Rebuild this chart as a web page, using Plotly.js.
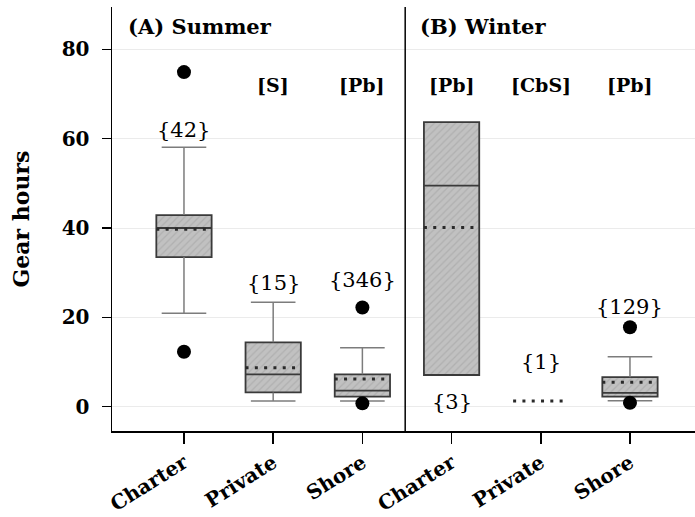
<!DOCTYPE html>
<html>
<head>
<meta charset="utf-8">
<script src="https://cdn.plot.ly/plotly-3.0.1.min.js"></script>
<style>
  html, body { margin: 0; padding: 0; background: #fff; }
  #chart { width: 695px; height: 517px; }
</style>
</head>
<body>
<div id="chart"></div>
<script>
// Gear hours by fishing mode, summer (positions 0-2) and winter (positions 3-5)
const categories = ['Charter', 'Private', 'Shore', 'Charter', 'Private', 'Shore'];
const q1 = [33.5, 3.2, 2.25, 7.1, null, 2.25];
const median = [40.0, 7.25, 3.6, 49.5, null, 3.1];
const q3 = [42.9, 14.4, 7.25, 63.7, null, 6.6];
const mean = [39.7, 8.7, 6.2, 40.1, 1.3, 5.5];
const lowerWhisker = [20.9, 1.3, 1.3, null, null, 1.35];
const upperWhisker = [58.1, 23.4, 13.2, null, null, 11.2];
const outlierGroup = [0, 0, 2, 2, 5, 5];
const outlierValue = [74.9, 12.3, 22.2, 0.75, 17.8, 0.9];
const sampleSize = [42, 15, 346, 3, 1, 129];
const groupLetters = ['', '[S]', '[Pb]', '[Pb]', '[CbS]', '[Pb]'];
const panelTitles = ['(A) Summer', '(B) Winter'];

// where each {n} label sits on the value axis
const sampleLabelY = [62, 27.6, 28.4, 1.1, 10.1, 22.4];
const letterLabelY = 72;

const serif = 'DejaVu Serif';
const boxWidth = 0.62;
const capHalf = 0.25;
const pos = categories.map((_, i) => i);
const hasBox = pos.filter(i => q1[i] !== null);

// hatched box fill
const fill = {
  type: 'bar',
  x: hasBox,
  base: hasBox.map(i => q1[i]),
  y: hasBox.map(i => q3[i] - q1[i]),
  width: boxWidth,
  marker: {
    color: '#b2b2b2',
    line: { width: 0 },
    pattern: { shape: '/', bgcolor: '#c1c1c1', fgcolor: '#b0b0b0', size: 5, solidity: 0.25 }
  },
  hoverinfo: 'skip',
  showlegend: false
};

// whiskers and caps
const wx = [], wy = [];
pos.forEach(i => {
  if (upperWhisker[i] !== null) {
    wx.push(i, i, null, i - capHalf, i + capHalf, null);
    wy.push(q3[i], upperWhisker[i], null, upperWhisker[i], upperWhisker[i], null);
  }
  if (lowerWhisker[i] !== null) {
    wx.push(i, i, null, i - capHalf, i + capHalf, null);
    wy.push(q1[i], lowerWhisker[i], null, lowerWhisker[i], lowerWhisker[i], null);
  }
});
const whiskers = {
  type: 'scatter', mode: 'lines', x: wx, y: wy,
  line: { color: '#7c7c7c', width: 1.5 },
  hoverinfo: 'skip', showlegend: false
};

// box outline and median
const boxes = {
  type: 'box',
  x: hasBox,
  q1: hasBox.map(i => q1[i]),
  median: hasBox.map(i => median[i]),
  q3: hasBox.map(i => q3[i]),
  lowerfence: hasBox.map(i => q1[i]),
  upperfence: hasBox.map(i => q3[i]),
  width: boxWidth,
  whiskerwidth: 0,
  boxpoints: false,
  fillcolor: 'rgba(0,0,0,0)',
  line: { color: '#3a3a3a', width: 1.8 },
  hoverinfo: 'skip',
  showlegend: false
};

// dotted mean lines
const mx = [], my = [];
pos.forEach(i => {
  mx.push(i - boxWidth / 2, i + boxWidth / 2, null);
  my.push(mean[i], mean[i], null);
});
const means = {
  type: 'scatter', mode: 'lines', x: mx, y: my,
  line: { color: '#2a2a2a', width: 3, dash: '3px,6.3px' },
  hoverinfo: 'skip', showlegend: false
};

const outliers = {
  type: 'scatter', mode: 'markers',
  x: outlierGroup, y: outlierValue,
  marker: { color: '#000', size: 14 },
  hoverinfo: 'skip', showlegend: false
};

const annotations = [];
pos.forEach(i => {
  annotations.push({
    x: i, y: sampleLabelY[i], xref: 'x', yref: 'y',
    text: '{' + sampleSize[i] + '}', showarrow: false,
    xanchor: 'center', yanchor: 'middle',
    font: { family: serif, size: 21, color: '#000' }
  });
  if (groupLetters[i]) {
    annotations.push({
      x: i, y: letterLabelY, xref: 'x', yref: 'y',
      text: groupLetters[i], showarrow: false,
      xanchor: 'center', yanchor: 'middle',
      font: { family: serif, size: 19, color: '#000', weight: 'bold' }
    });
  }
});
[0.024, 0.525].forEach((px, k) => {
  annotations.push({
    x: px, y: 0.955, xref: 'paper', yref: 'paper',
    text: panelTitles[k], showarrow: false,
    xanchor: 'left', yanchor: 'middle',
    font: { family: serif, size: 21, color: '#000', weight: 'bold' }
  });
});

const layout = {
  width: 695, height: 517,
  margin: { l: 112, r: 0, t: 7, b: 86 },
  paper_bgcolor: '#fff', plot_bgcolor: '#fff',
  barmode: 'overlay',
  showlegend: false,
  font: { family: serif, color: '#000' },
  xaxis: {
    range: [-0.807, 5.729],
    tickmode: 'array', tickvals: pos, ticktext: categories,
    tickangle: -32,
    ticks: 'outside', ticklen: 11, tickwidth: 1.5, tickcolor: '#000',
    showline: true, linecolor: '#000', linewidth: 1.5,
    showgrid: false, zeroline: false,
    tickfont: { family: serif, size: 20, color: '#000', weight: 'bold' }
  },
  yaxis: {
    range: [-5.44, 89.47],
    tickmode: 'array', tickvals: [0, 20, 40, 60, 80],
    ticks: 'outside', ticklen: 9, tickwidth: 1.5, tickcolor: '#000',
    ticklabelstandoff: 8,
    showline: true, linecolor: '#000', linewidth: 1.5,
    showgrid: true, gridcolor: '#ebebeb', gridwidth: 1,
    zeroline: false,
    tickfont: { family: serif, size: 20, color: '#000', weight: 'bold' },
    title: { text: 'Gear hours', standoff: 26,
             font: { family: serif, size: 22, color: '#000', weight: 'bold' } }
  },
  shapes: [{
    type: 'line', xref: 'x', yref: 'paper',
    x0: 2.48, x1: 2.48, y0: 0, y1: 1,
    line: { color: '#000', width: 1.5 }
  }],
  annotations: annotations
};

Plotly.newPlot('chart', [fill, whiskers, boxes, means, outliers], layout,
  { staticPlot: true, displayModeBar: false });
</script>
</body>
</html>
